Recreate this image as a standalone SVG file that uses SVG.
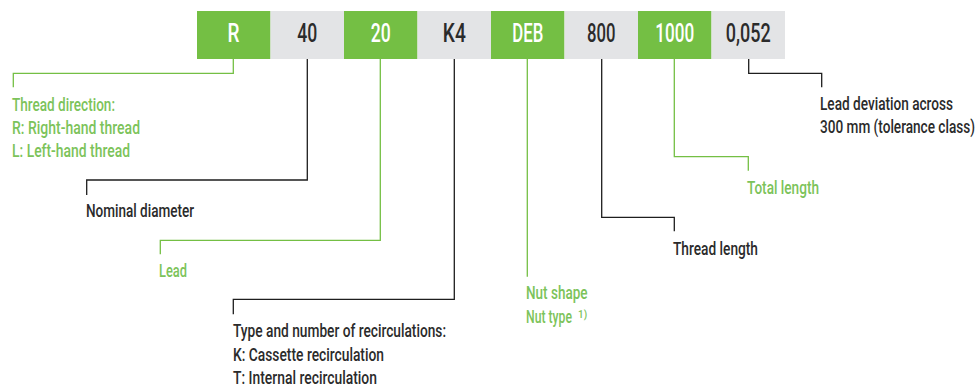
<svg xmlns="http://www.w3.org/2000/svg" width="978" height="388" viewBox="0 0 978 388">
<style>
text{font-family:Roboto,"Liberation Sans","DejaVu Sans",sans-serif;font-weight:500;}
.code{font-size:25px;text-anchor:middle;}
.cw{fill:#ffffff;}
.cd{fill:#2b2b2b;}
.g{fill:#74bf44;}
.gr{fill:#e3e4e6;}
.lbl{font-size:19px;}
.lg{fill:#7cc35a;}
.ld{fill:#2b2b2b;}
.cg{fill:none;stroke:#74bf44;stroke-width:1.3;}
.ck{fill:none;stroke:#1e1e1e;stroke-width:1.3;}
</style>
<rect width="978" height="388" fill="#ffffff"/>
<g id="code-R"><rect class="g" x="197" y="11" width="73.5" height="48"/><text class="code cw" transform="translate(233.5,42) scale(0.7,1)" textLength="17.1" lengthAdjust="spacingAndGlyphs">R</text></g>
<g id="code-40"><rect class="gr" x="270.5" y="11" width="73.5" height="48"/><text class="code cd" transform="translate(307.3,42) scale(0.7,1)" textLength="28.6" lengthAdjust="spacingAndGlyphs">40</text></g>
<g id="code-20"><rect class="g" x="344" y="11" width="73.5" height="48"/><text class="code cw" transform="translate(380.7,42) scale(0.7,1)" textLength="28.6" lengthAdjust="spacingAndGlyphs">20</text></g>
<g id="code-K4"><rect class="gr" x="417.5" y="11" width="73.5" height="48"/><text class="code cd" transform="translate(454.3,42) scale(0.7,1)" textLength="32.9" lengthAdjust="spacingAndGlyphs">K4</text></g>
<g id="code-DEB"><rect class="g" x="491" y="11" width="73.5" height="48"/><text class="code cw" transform="translate(527.8,42) scale(0.7,1)" textLength="44.3" lengthAdjust="spacingAndGlyphs">DEB</text></g>
<g id="code-800"><rect class="gr" x="564.5" y="11" width="73.5" height="48"/><text class="code cd" transform="translate(601.2,42) scale(0.7,1)" textLength="40.7" lengthAdjust="spacingAndGlyphs">800</text></g>
<g id="code-1000"><rect class="g" x="638" y="11" width="73.5" height="48"/><text class="code cw" transform="translate(674.7,42) scale(0.7,1)" textLength="55.7" lengthAdjust="spacingAndGlyphs">1000</text></g>
<g id="code-0052"><rect class="gr" x="711.5" y="11" width="73.5" height="48"/><text class="code cd" transform="translate(748.3,42) scale(0.7,1)" textLength="64.3" lengthAdjust="spacingAndGlyphs">0,052</text></g>

<g id="connectors">
<polyline class="cg" points="233.3,59 233.3,73.3 13.3,73.3 13.3,87.3"/>
<polyline class="ck" points="307.3,59 307.3,180 86.7,180 86.7,195"/>
<polyline class="cg" points="380.3,59 380.3,240.3 160.3,240.3 160.3,254.3"/>
<polyline class="ck" points="454.3,59 454.3,299.3 233.3,299.3 233.3,314.3"/>
<polyline class="cg" points="527.3,59 527.3,276.7"/>
<polyline class="ck" points="601.7,59 601.7,217.3 674.3,217.3 674.3,231.3"/>
<polyline class="cg" points="674.3,59 674.3,156.7 748.3,156.7 748.3,170.7"/>
<polyline class="ck" points="748.7,59 748.7,73.3 821.7,73.3 821.7,87.3"/>
</g>

<g id="label-thread-direction">
<text class="lbl lg" transform="translate(12,110.7) scale(0.7,1)" textLength="147.1" lengthAdjust="spacingAndGlyphs">Thread direction:</text>
<text class="lbl lg" transform="translate(12,134) scale(0.7,1)" textLength="182.9" lengthAdjust="spacingAndGlyphs">R: Right-hand thread</text>
<text class="lbl lg" transform="translate(12,156.7) scale(0.7,1)" textLength="168.6" lengthAdjust="spacingAndGlyphs">L: Left-hand thread</text>
</g>
<g id="label-nominal-diameter">
<text class="lbl ld" transform="translate(86,216.7) scale(0.7,1)" textLength="154.3" lengthAdjust="spacingAndGlyphs">Nominal diameter</text>
</g>
<g id="label-lead">
<text class="lbl lg" transform="translate(159,277) scale(0.7,1)" textLength="40" lengthAdjust="spacingAndGlyphs">Lead</text>
</g>
<g id="label-recirculations">
<text class="lbl ld" transform="translate(233,337.3) scale(0.7,1)" textLength="304.3" lengthAdjust="spacingAndGlyphs">Type and number of recirculations:</text>
<text class="lbl ld" transform="translate(233,361) scale(0.7,1)" textLength="215.7" lengthAdjust="spacingAndGlyphs">K: Cassette recirculation</text>
<text class="lbl ld" transform="translate(233,384) scale(0.7,1)" textLength="205.7" lengthAdjust="spacingAndGlyphs">T: Internal recirculation</text>
</g>
<g id="label-nut">
<text class="lbl lg" transform="translate(526,299.3) scale(0.7,1)" textLength="87.9" lengthAdjust="spacingAndGlyphs">Nut shape</text>
<text class="lbl lg" transform="translate(526,322.7) scale(0.7,1)" textLength="65.7" lengthAdjust="spacingAndGlyphs">Nut type</text>
<text class="lg" transform="translate(578,318) scale(0.7,1)" font-size="10" textLength="13" lengthAdjust="spacingAndGlyphs">1)</text>
</g>
<g id="label-thread-length">
<text class="lbl ld" transform="translate(673,255) scale(0.7,1)" textLength="121.4" lengthAdjust="spacingAndGlyphs">Thread length</text>
</g>
<g id="label-total-length">
<text class="lbl lg" transform="translate(747,194.3) scale(0.7,1)" textLength="102.9" lengthAdjust="spacingAndGlyphs">Total length</text>
</g>
<g id="label-lead-deviation">
<text class="lbl ld" transform="translate(820,110) scale(0.7,1)" textLength="190" lengthAdjust="spacingAndGlyphs">Lead deviation across</text>
<text class="lbl ld" transform="translate(820,132.7) scale(0.7,1)" textLength="221.4" lengthAdjust="spacingAndGlyphs">300 mm (tolerance class)</text>
</g>
</svg>
